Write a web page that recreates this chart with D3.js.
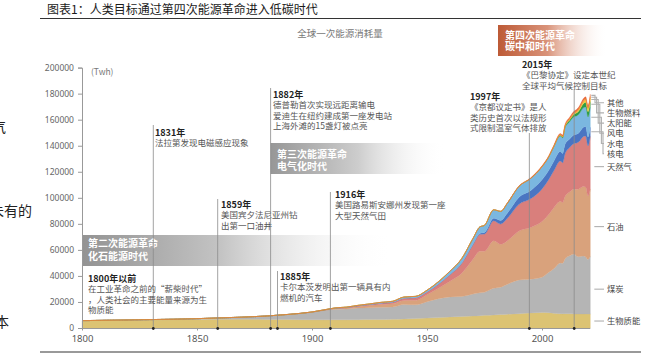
<!DOCTYPE html>
<html><head><meta charset="utf-8">
<script src="https://cdn.jsdelivr.net/npm/d3@7/dist/d3.min.js"></script>
<style>
html,body{margin:0;padding:0;background:#fff;}
svg{display:block;font-family:"Noto Sans CJK SC","Noto Sans",sans-serif;}
</style></head><body>
<svg id="c" width="655" height="357"></svg>
<script>
// ---------- DATA ----------
const years = [1800,1810,1820,1830,1840,1850,1860,1870,1880,1890,1900,1905,1910,1915,1920,1925,1930,1935,1940,1945,1950,1955,1960,1965,1970,1973,1975,1979,1982,1985,1990,1995,2000,2003,2005,2008,2009,2010,2012,2014,2015,2016,2018,2019,2020,2021];
const biomass = [5556,5800,6000,6200,6400,6600,6700,6700,6600,6500,6300,6300,6300,6300,6400,6500,6600,6800,7000,7300,7600,8000,8500,8900,9200,9500,9700,10000,10300,10600,11000,11500,12000,11800,11300,11000,11000,11000,10900,10800,10800,10800,10800,10800,10700,10700];
const coal = [97,128,153,264,356,569,1061,1642,2542,3856,5728,7000,8100,8300,8900,9100,9300,9300,11000,10500,12600,14500,15400,15300,16900,17500,17800,20500,21000,23000,25900,26000,27000,31000,34000,39000,38800,42000,44500,46000,44500,44000,44500,43800,42000,44400];
const oil = [0,0,0,0,0,0,0,6,33,89,181,300,500,700,1100,1600,2100,2500,3200,3500,5400,8000,12000,17700,26700,32000,31500,36500,33000,33500,37600,39700,42800,44500,46700,47300,46500,48000,49000,50000,51300,52000,53300,53600,48600,51700];
const gas = [0,0,0,0,0,0,0,0,0,33,64,150,300,450,600,800,1100,1200,1700,2000,2100,3200,5100,7600,11300,13000,13200,15300,15500,17300,20500,22000,25000,27000,28300,31000,30600,32700,34200,35000,35500,36200,38500,39300,38600,40400];
const nuclear = [0,0,0,0,0,0,0,0,0,0,0,0,0,0,0,0,0,0,0,0,0,0,0,70,240,600,1100,2000,2800,4000,5500,6300,7000,7000,7400,7300,7200,7300,6500,6600,6700,6800,7000,7200,6800,7000];
const hydro = [0,0,0,0,0,0,0,0,0,0,50,100,200,300,400,500,600,700,900,1000,1300,1900,2700,3500,4500,5100,5600,6500,7000,7600,8300,9300,10000,10200,10900,11800,11900,12700,13300,14000,14100,14400,15000,15100,15400,15300];
const wind = [0,0,0,0,0,0,0,0,0,0,0,0,0,0,0,0,0,0,0,0,0,0,0,0,0,0,0,0,0,0,0,0,90,200,300,600,750,900,1400,1800,2200,2500,3200,3500,4000,4600];
const solar = [0,0,0,0,0,0,0,0,0,0,0,0,0,0,0,0,0,0,0,0,0,0,0,0,0,0,0,0,0,0,0,0,0,0,0,30,50,80,250,500,650,850,1500,1800,2200,2700];
const biofuel = [0,0,0,0,0,0,0,0,0,0,0,0,0,0,0,0,0,0,0,0,0,0,0,0,0,0,0,0,0,0,0,0,120,170,250,500,550,600,700,750,800,820,900,950,900,950];
const other = [0,0,0,0,0,0,0,0,0,0,0,0,0,0,0,0,0,0,0,0,0,0,0,0,0,0,0,100,150,250,400,500,600,650,700,850,900,1000,1100,1200,1300,1350,1500,1600,1700,1800];

const seriesKeys = ["biomass","coal","oil","gas","nuclear","hydro","wind","solar","biofuel","other"];
const seriesValues = [biomass,coal,oil,gas,nuclear,hydro,wind,solar,biofuel,other];
const seriesNames = ["生物质能","煤炭","石油","天然气","核电","水电","风电","太阳能","生物燃料","其他"];
const seriesColors = ["#dcc373","#b5b5b5","#d9a27c","#d97f7c","#4a75c2","#7bb7e0","#2f9d48","#f6c93b","#f39c2b","#e8683a"];

const yTicks = [0,20000,40000,60000,80000,100000,120000,140000,160000,180000,200000];
const xTicks = [1800,1850,1900,1950,2000];

const title = "图表1：人类目标通过第四次能源革命进入低碳时代";
const subtitle = "全球一次能源消耗量";
const unit = "(Twh)";

const eventYears = [1831,1859,1882,1885,1908,1994.5,2014];
const eventTitles = ["1831年","1859年","1882年","1885年","1916年","1997年","2015年"];
const eventTexts = [
  ["法拉第发现电磁感应现象"],
  ["美国宾夕法尼亚州钻","出第一口油井"],
  ["德普勒首次实现远距离输电","爱迪生在纽约建成第一座发电站","上海外滩的15盏灯被点亮"],
  ["卡尔本茨发明出第一辆具有内","燃机的汽车"],
  ["美国路易斯安娜州发现第一座","大型天然气田"],
  ["《京都议定书》是人","类历史首次以法规形","式限制温室气体排放"],
  ["《巴黎协定》设定本世纪","全球平均气候控制目标"]
];
const preTitle = "1800年以前";
const preText = ["在工业革命之前的“薪柴时代”","，人类社会的主要能量来源为生","物质能"];

const eraTexts = [["第二次能源革命","化石能源时代"],["第三次能源革命","电气化时代"],["第四次能源革命","碳中和时代"]];
const sideTexts = ["气","未有的","本"];

// ---------- LAYOUT ----------
const svg = d3.select("#c");
const X0 = 82, X1 = 590.3, Y0 = 328, Y1 = 67.6;
const x = d3.scaleLinear().domain([1800,2021]).range([X0,X1]);
const y = d3.scaleLinear().domain([0,200000]).range([Y0,Y1]);

// side stray text (cropped in the source page)
const sideLayout = [[6,132],[32,216],[9,327]];
sideTexts.forEach((t,i)=>{
  svg.append("text").attr("x",sideLayout[i][0]).attr("y",sideLayout[i][1]).attr("text-anchor","end")
    .attr("font-size",14).attr("fill","#222").text(t);
});

// title
svg.append("text").attr("x",47).attr("y",14).attr("font-size",12).attr("fill","#1a1a1a").text(title);
svg.append("line").attr("x1",40).attr("x2",641).attr("y1",18.5).attr("y2",18.5).attr("stroke","#333").attr("stroke-width",1);
svg.append("line").attr("x1",40).attr("x2",641).attr("y1",352).attr("y2",352).attr("stroke","#777").attr("stroke-width",1.5);
svg.append("text").attr("x",340).attr("y",37).attr("text-anchor","middle").attr("font-size",9.5).attr("fill","#777").text(subtitle);

// gradients
const defs = svg.append("defs");
function grad(id, stops){
  const g = defs.append("linearGradient").attr("id",id).attr("x1","0%").attr("x2","100%").attr("y1","0%").attr("y2","0%");
  stops.forEach(s=>g.append("stop").attr("offset",s[0]).attr("stop-color",s[1]).attr("stop-opacity",s[2]));
}
grad("g2",[["0%","#939393",1],["45%","#c4c4c4",1],["100%","#ffffff",0]]);
grad("g3",[["0%","#979797",1],["50%","#cdcdcd",1],["100%","#ffffff",0]]);
grad("g4",[["0%","#bd5a36",1],["45%","#d9937a",1],["100%","#ffffff",0]]);

// stacked area
const table = years.map((yr,i)=>{const o={year:yr}; seriesKeys.forEach((k,j)=>o[k]=seriesValues[j][i]); return o;});
const stack = d3.stack().keys(seriesKeys)(table);
const area = d3.area().x(d=>x(d.data.year)).y0(d=>y(d[0])).y1(d=>y(d[1])).curve(d3.curveMonotoneX);
svg.append("g").selectAll("path").data(stack).join("path")
  .attr("d",area).attr("fill",(d,i)=>seriesColors[i]).attr("stroke",(d,i)=>seriesColors[i]).attr("stroke-width",0.3);

// era bands
const eraLayout = [
  {x:X0, w:310, y:235, h:31, fill:"url(#g2)", tx:88, ty:[247,260]},
  {x:x(1882), w:175, y:143, h:31, fill:"url(#g3)", tx:277, ty:[158,170]},
  {x:498, w:110, y:25, h:31, fill:"url(#g4)", tx:505, ty:[38.5,50]}
];
eraLayout.forEach((e,i)=>{
  svg.append("rect").attr("x",e.x).attr("y",e.y).attr("width",e.w).attr("height",e.h).attr("fill",e.fill);
  eraTexts[i].forEach((t,j)=>svg.append("text").attr("x",e.tx).attr("y",e.ty[j]).attr("font-size",10)
    .attr("font-weight","bold").attr("fill","#fff").text(t));
});

// axes
const yAxis = svg.append("g").attr("transform",`translate(${X0},0)`)
  .call(d3.axisLeft(y).tickValues(yTicks).tickSize(4).tickPadding(4).tickFormat(d3.format("d")));
yAxis.select(".domain").attr("stroke","#999");
yAxis.selectAll(".tick line").attr("stroke","#999");
yAxis.selectAll("text").attr("font-size",8.5).attr("fill","#666").attr("font-family","'Noto Sans',sans-serif");

const xAxis = svg.append("g").attr("transform",`translate(0,${Y0+0.5})`)
  .call(d3.axisBottom(x).tickValues(xTicks).tickSize(2).tickPadding(5).tickFormat(d3.format("d")));
xAxis.select(".domain").attr("stroke","#999").attr("d",`M${X0},0H${X1}`);
xAxis.selectAll(".tick line").attr("stroke","#999");
xAxis.selectAll("text").attr("font-size",9.5).attr("fill","#555").attr("font-family","'Noto Sans',sans-serif");

svg.append("text").attr("x",91).attr("y",75).attr("font-size",8.5).attr("fill","#777").text(unit);

// events
const eventLayout = [
  {top:125, tx:155, ty:136},
  {top:199, tx:221, ty:208},
  {top:88, tx:273, ty:98},
  {top:271, tx:280, ty:280},
  {top:192, tx:335, ty:198},
  {top:133, tx:470, ty:100},
  {top:90, tx:522, ty:68}
];
eventYears.forEach((yr,i)=>{
  const L = eventLayout[i];
  svg.append("line").attr("x1",x(yr)).attr("x2",x(yr)).attr("y1",L.top).attr("y2",Y0)
    .attr("stroke","#8a8a8a").attr("stroke-width",0.8);
  svg.append("circle").attr("cx",x(yr)).attr("cy",Y0+0.5).attr("r",1.4).attr("fill","#222");
  svg.append("text").attr("x",L.tx).attr("y",L.ty).attr("font-size",9).attr("font-weight","bold").attr("fill","#222").text(eventTitles[i]);
  eventTexts[i].forEach((t,j)=>svg.append("text").attr("x",L.tx).attr("y",L.ty+10.3*(j+1)).attr("font-size",8.5).attr("fill","#555").text(t));
});
svg.append("text").attr("x",88).attr("y",282).attr("font-size",9).attr("font-weight","bold").attr("fill","#222").text(preTitle);
preText.forEach((t,j)=>svg.append("text").attr("x",88).attr("y",282+10.3*(j+1)).attr("font-size",8.5).attr("fill","#555").text(t));

// legend labels
const last = stack.map(s=>s[s.length-1]);
const LX = 607;
stack.forEach((s,i)=>{
  const d = last[i];
  const mid = y((d[0]+d[1])/2);
  let ly, path;
  if(i<4){
    ly = mid + (i===0?0:4);
    path = `M${X1+4},${ly}H${LX-3}`;
  } else {
    const k = 9 - i; // 0 for other ... 5 for nuclear
    ly = 102.7 + k*10.2;
    const xk = 603 - (5-k)*1.6;
    path = `M${X1+1},${mid}H${xk}V${ly}H${LX-3}`;
  }
  svg.append("path").attr("d",path).attr("fill","none").attr("stroke","#b0b0b0").attr("stroke-width",1.1);
  svg.append("text").attr("x",LX).attr("y",ly+3).attr("font-size",8.3).attr("fill","#444").text(seriesNames[i]);
});
</script>
</body></html>
